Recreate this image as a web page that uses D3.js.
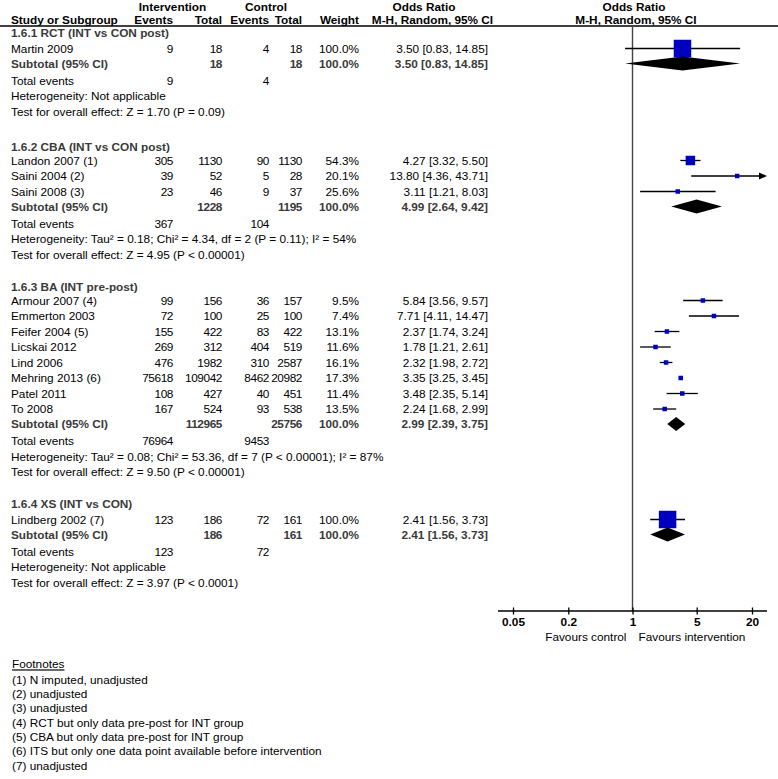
<!DOCTYPE html>
<html><head><meta charset="utf-8">
<script src="https://cdn.jsdelivr.net/npm/d3@7"></script>
<style>
body{margin:0;background:#fff}
svg{display:block}
text{font-family:"Liberation Sans",Arial,Helvetica,sans-serif;font-size:11.8px}
text.num{letter-spacing:-0.4px}
</style>
</head><body>
<svg id="chart" width="778" height="779"></svg>
<script>
// ---------------- DATA ----------------
const groupNames = ["1.6.1 RCT (INT vs CON post)", "1.6.2 CBA (INT vs CON post)", "1.6.3 BA (INT pre-post)", "1.6.4 XS (INT vs CON)"];
const studyGroup = [0, 1, 1, 1, 2, 2, 2, 2, 2, 2, 2, 2, 3];
const studyNames = ["Martin 2009", "Landon 2007 (1)", "Saini 2004 (2)", "Saini 2008 (3)", "Armour 2007 (4)", "Emmerton 2003", "Feifer 2004 (5)", "Licskai 2012", "Lind 2006", "Mehring 2013 (6)", "Patel 2011", "To 2008", "Lindberg 2002 (7)"];
const intEvents = [9, 305, 39, 23, 99, 72, 155, 269, 476, 75618, 108, 167, 123];
const intTotal  = [18, 1130, 52, 46, 156, 100, 422, 312, 1982, 109042, 427, 524, 186];
const conEvents = [4, 90, 5, 9, 36, 25, 83, 404, 310, 8462, 40, 93, 72];
const conTotal  = [18, 1130, 28, 37, 157, 100, 422, 519, 2587, 20982, 451, 538, 161];
const weights   = [100.0, 54.3, 20.1, 25.6, 9.5, 7.4, 13.1, 11.6, 16.1, 17.3, 11.4, 13.5, 100.0];
const orValues  = [3.50, 4.27, 13.80, 3.11, 5.84, 7.71, 2.37, 1.78, 2.32, 3.35, 3.48, 2.24, 2.41];
const ciLower   = [0.83, 3.32, 4.36, 1.21, 3.56, 4.11, 1.74, 1.21, 1.98, 3.25, 2.35, 1.68, 1.56];
const ciUpper   = [14.85, 5.50, 43.71, 8.03, 9.57, 14.47, 3.24, 2.61, 2.72, 3.45, 5.14, 2.99, 3.73];

const subIntTotal = [18, 1228, 112965, 186];
const subConTotal = [18, 1195, 25756, 161];
const subOR    = [3.50, 4.99, 2.99, 2.41];
const subLower = [0.83, 2.64, 2.39, 1.56];
const subUpper = [14.85, 9.42, 3.75, 3.73];
const totIntEvents = [9, 367, 76964, 123];
const totConEvents = [4, 104, 9453, 72];
const hetTexts = ["Heterogeneity: Not applicable",
  "Heterogeneity: Tau\u00b2 = 0.18; Chi\u00b2 = 4.34, df = 2 (P = 0.11); I\u00b2 = 54%",
  "Heterogeneity: Tau\u00b2 = 0.08; Chi\u00b2 = 53.36, df = 7 (P < 0.00001); I\u00b2 = 87%",
  "Heterogeneity: Not applicable"];
const testTexts = ["Test for overall effect: Z = 1.70 (P = 0.09)",
  "Test for overall effect: Z = 4.95 (P < 0.00001)",
  "Test for overall effect: Z = 9.50 (P < 0.00001)",
  "Test for overall effect: Z = 3.97 (P < 0.0001)"];

const tickValues = [0.05, 0.2, 1, 5, 20];
const favoursLabels = ["Favours control", "Favours intervention"];
const footnotes = ["(1) N imputed, unadjusted", "(2) unadjusted", "(3) unadjusted",
  "(4) RCT but only data pre-post for INT group", "(5) CBA but only data pre-post for INT group",
  "(6) ITS but only one data point available before intervention", "(7) unadjusted"];

// ---------------- LAYOUT ----------------
const W = 778, H = 779;
const groupStartY = [33, 147, 287, 504];
const studyStep = 15.5;
const col = {name: 11, ie: 173, it: 222, ce: 269, ct: 302, w: 359, or: 488};
const grey = "#3a3a3a";
const blue = "#0000c0";
const axisY = 611, headerLineY = 26;

const svg = d3.select("#chart");
const x = d3.scaleLog().domain([0.05, 20]).range([513, 752]);
const xMin = x.range()[0] - 15, xMax = x.range()[1] + 15;

const fmt2 = d3.format(".2f");
const orText = (o, l, h) => `${fmt2(o)} [${fmt2(l)}, ${fmt2(h)}]`;
const pct = w => `${d3.format(".1f")(w)}%`;

function txt(xp, yp, s, opts = {}) {
  return svg.append("text").attr("x", xp).attr("y", yp + 4.4)
    .attr("class", opts.num ? "num" : null)
    .attr("text-anchor", opts.anchor || "start")
    .attr("font-weight", opts.bold ? "bold" : "normal")
    .attr("fill", opts.fill || "#000")
    .text(s);
}

// header
txt(172.5, 6.5, "Intervention", {anchor: "middle", bold: true});
txt(266, 6.5, "Control", {anchor: "middle", bold: true});
txt(424, 6.5, "Odds Ratio", {anchor: "middle", bold: true});
txt(634, 6.5, "Odds Ratio", {anchor: "middle", bold: true});
txt(col.name, 20, "Study or Subgroup", {bold: true});
txt(col.ie, 20, "Events", {anchor: "end", bold: true});
txt(col.it, 20, "Total", {anchor: "end", bold: true});
txt(col.ce, 20, "Events", {anchor: "end", bold: true});
txt(col.ct, 20, "Total", {anchor: "end", bold: true});
txt(col.w, 20, "Weight", {anchor: "end", bold: true});
txt(432.5, 20, "M-H, Random, 95% CI", {anchor: "middle", bold: true});
txt(636, 20, "M-H, Random, 95% CI", {anchor: "middle", bold: true});
svg.append("line").attr("x1", 0).attr("x2", W).attr("y1", headerLineY).attr("y2", headerLineY)
  .attr("stroke", "#000").attr("stroke-width", 1.3);

// vertical line at OR = 1
svg.append("line").attr("x1", x(1)).attr("x2", x(1)).attr("y1", headerLineY).attr("y2", axisY)
  .attr("stroke", "#444").attr("stroke-width", 1.4);

const marks = svg.append("g");

groupNames.forEach((g, gi) => {
  let y = groupStartY[gi];
  txt(col.name, y, g, {bold: true, fill: grey});
  const idx = studyGroup.map((s, i) => s === gi ? i : -1).filter(i => i >= 0);
  let yy = y + (idx.length === 1 ? 15.5 : 13.5);
  idx.forEach((i, k) => {
    const ys = yy + k * studyStep;
    txt(col.name, ys, studyNames[i]);
    txt(col.ie, ys, intEvents[i], {anchor: "end", num: true});
    txt(col.it, ys, intTotal[i], {anchor: "end", num: true});
    txt(col.ce, ys, conEvents[i], {anchor: "end", num: true});
    txt(col.ct, ys, conTotal[i], {anchor: "end", num: true});
    txt(col.w, ys, pct(weights[i]), {anchor: "end"});
    txt(col.or, ys, orText(orValues[i], ciLower[i], ciUpper[i]), {anchor: "end"});
    // CI line
    const x1 = Math.max(xMin, x(ciLower[i])), x2 = Math.min(xMax, x(ciUpper[i]));
    const arrowR = x(ciUpper[i]) > xMax, arrowL = x(ciLower[i]) < xMin;
    marks.append("line").attr("x1", x1 + (arrowL ? 7 : 0)).attr("x2", x2 - (arrowR ? 7 : 0))
      .attr("y1", ys).attr("y2", ys).attr("stroke", "#000").attr("stroke-width", 1.3);
    if (arrowR) marks.append("path").attr("d", `M${xMax},${ys}L${xMax - 8},${ys - 3.5}L${xMax - 8},${ys + 3.5}Z`).attr("fill", "#000");
    if (arrowL) marks.append("path").attr("d", `M${xMin},${ys}L${xMin + 8},${ys - 3.5}L${xMin + 8},${ys + 3.5}Z`).attr("fill", "#000");
    const s = Math.max(4.5, 17.5 * weights[i] / 100);
    marks.append("rect").attr("x", x(orValues[i]) - s / 2).attr("y", ys - s / 2)
      .attr("width", s).attr("height", s).attr("fill", blue);
  });
  const ySub = yy + (idx.length - 1) * studyStep + 15;
  txt(col.name, ySub, "Subtotal (95% CI)", {bold: true, fill: grey});
  txt(col.it, ySub, subIntTotal[gi], {anchor: "end", bold: true, fill: grey, num: true});
  txt(col.ct, ySub, subConTotal[gi], {anchor: "end", bold: true, fill: grey, num: true});
  txt(col.w, ySub, "100.0%", {anchor: "end", bold: true, fill: grey});
  txt(col.or, ySub, orText(subOR[gi], subLower[gi], subUpper[gi]), {anchor: "end", bold: true, fill: grey});
  marks.append("path")
    .attr("d", `M${x(subLower[gi])},${ySub}L${x(subOR[gi])},${ySub - 7}L${x(subUpper[gi])},${ySub}L${x(subOR[gi])},${ySub + 7}Z`)
    .attr("fill", "#000");
  const yTot = ySub + 17;
  txt(col.name, yTot, "Total events");
  txt(col.ie, yTot, totIntEvents[gi], {anchor: "end", num: true});
  txt(col.ce, yTot, totConEvents[gi], {anchor: "end", num: true});
  txt(col.name, yTot + 15.5, hetTexts[gi]);
  txt(col.name, yTot + 31, testTexts[gi]);
});

// axis
svg.append("line").attr("x1", xMin).attr("x2", xMax).attr("y1", axisY).attr("y2", axisY)
  .attr("stroke", "#000").attr("stroke-width", 1.3);
const ax = svg.append("g").attr("transform", `translate(0,${axisY})`)
  .call(d3.axisBottom(x).tickValues(tickValues).tickFormat(d => String(d)).tickSizeInner(3.5).tickSizeOuter(0));
ax.select(".domain").remove();
ax.selectAll(".tick line").attr("y1", -3.5).attr("y2", 3.5).attr("stroke", "#000").attr("stroke-width", 1.3);
ax.selectAll(".tick text").attr("y", 7).attr("font-weight", "bold").attr("fill", "#000")
  .style("font-family", '"Liberation Sans",Arial,sans-serif').style("font-size", "11.8px");
txt(x(1) - 6, 636.5, favoursLabels[0], {anchor: "end"});
txt(x(1) + 6, 636.5, favoursLabels[1]);

// footnotes
svg.append("text").attr("x", 12).attr("y", 664 + 4.4).attr("text-decoration", "underline").text("Footnotes");
footnotes.forEach((f, i) => txt(12, 679.3 + i * 14.3, f));
</script>
</body></html>
